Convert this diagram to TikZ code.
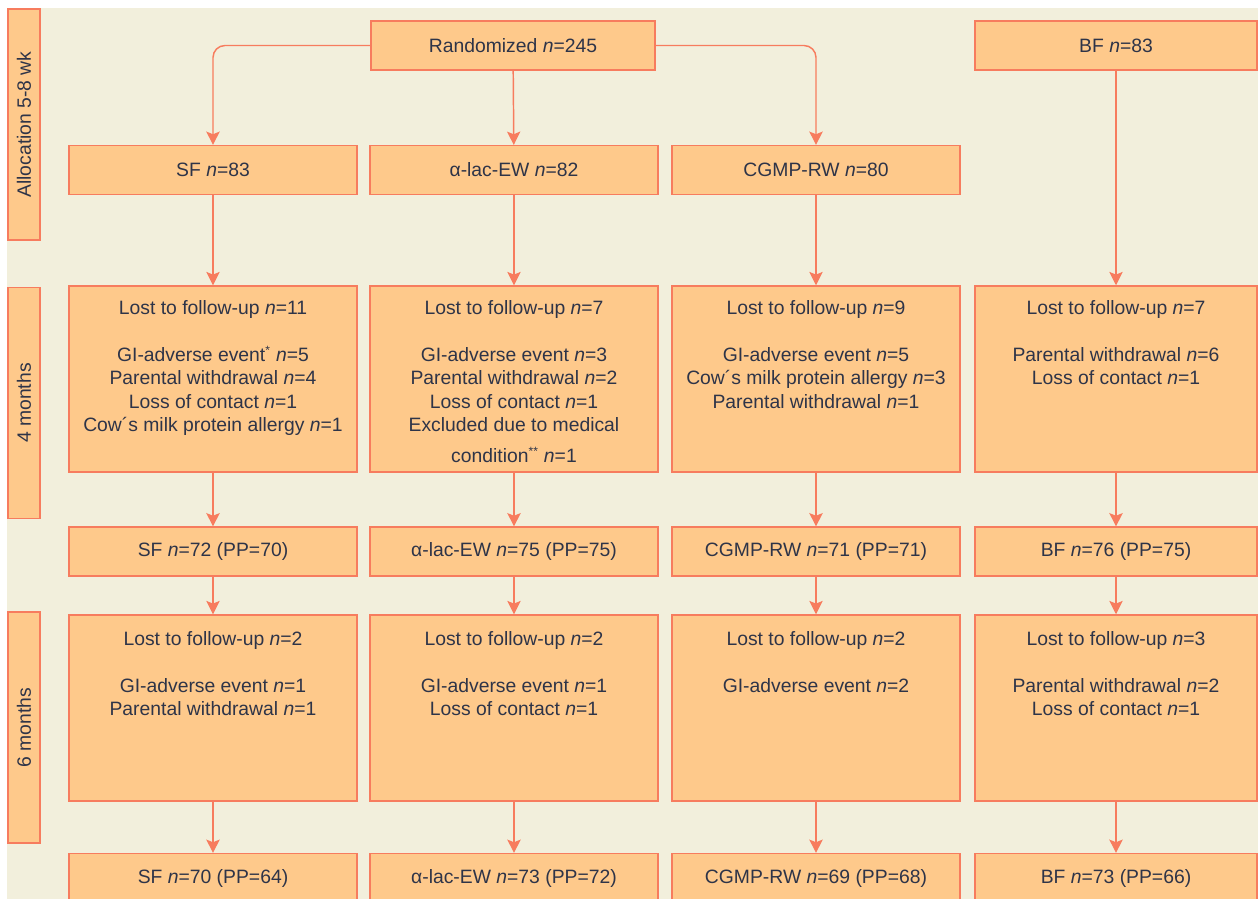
\documentclass[tikz,border=0pt]{standalone}
\usepackage{fontspec}
\setmainfont{Liberation Sans}
\usetikzlibrary{arrows.meta}
\definecolor{boxfill}{HTML}{FEC98B}
\definecolor{boxline}{HTML}{F77C5E}
\definecolor{paper}{HTML}{F2EFDC}
\definecolor{ink}{HTML}{2E3448}
\begin{document}
\begin{tikzpicture}[x=0.75pt, y=-0.75pt, >={Stealth[length=10pt,width=10pt,inset=2pt]},
  box/.style={draw=boxline, fill=boxfill, line width=1.1pt, rectangle, minimum width=216pt, minimum height=36.5pt, inner sep=0pt, text=ink},
  side/.style={box, rotate=90, minimum width=173pt, minimum height=24pt},
  txt/.style={anchor=north, align=center, text=ink, inner sep=0pt},
  link/.style={->, draw=boxline, line width=1.1pt},
  every node/.append style={font=\fontsize{14.5}{17.6}\selectfont}]
\clip (0,0) rectangle (1258,899);
\fill[paper] (7,8) rectangle (1258,899);
\node[side] (s1) at (24,124.5) {Allocation 5-8 wk};
\node[side] (s2) at (24,403) {4 months};
\node[side] (s3) at (24,727.5) {6 months};
\node[box, minimum width=213pt] (r) at (513,45.5) {Randomized \textit{n}=245};
\node[box, minimum width=211.5pt] (d0) at (1116,45.5) {BF \textit{n}=83};
\node[box] (a1) at (213,170) {SF \textit{n}=83};
\node[box] (b1) at (514,170) {α-lac-EW \textit{n}=82};
\node[box] (c1) at (816,170) {CGMP-RW \textit{n}=80};
\node[box, minimum height=139.5pt] (a2) at (213,379) {};
\node[box, minimum height=139.5pt] (b2) at (514,379) {};
\node[box, minimum height=139.5pt] (c2) at (816,379) {};
\node[box, minimum height=139.5pt, minimum width=211.5pt] (d2) at (1116,379) {};
\node[txt] (ta2) at ([yshift=-11pt]a2.north) {Lost to follow-up \textit{n}=11\\[17.6pt]
  GI-adverse event\textsuperscript{\small *} \textit{n}=5\\ Parental withdrawal \textit{n}=4\\
  Loss of contact \textit{n}=1\\ Cow´s milk protein allergy \textit{n}=1};
\node[txt] (tb2) at ([yshift=-11pt]b2.north) {Lost to follow-up \textit{n}=7\\[17.6pt]
  GI-adverse event \textit{n}=3\\ Parental withdrawal \textit{n}=2\\
  Loss of contact \textit{n}=1\\ Excluded due to medical\\[5.5pt] condition\textsuperscript{\small **} \textit{n}=1};
\node[txt] (tc2) at ([yshift=-11pt]c2.north) {Lost to follow-up \textit{n}=9\\[17.6pt]
  GI-adverse event \textit{n}=5\\ Cow´s milk protein allergy \textit{n}=3\\ Parental withdrawal \textit{n}=1};
\node[txt] (td2) at ([yshift=-11pt]d2.north) {Lost to follow-up \textit{n}=7\\[17.6pt]
  Parental withdrawal \textit{n}=6\\ Loss of contact \textit{n}=1};
\node[box] (a3) at (213,551.5) {SF \textit{n}=72 (PP=70)};
\node[box] (b3) at (514,551.5) {α-lac-EW \textit{n}=75 (PP=75)};
\node[box] (c3) at (816,551.5) {CGMP-RW \textit{n}=71 (PP=71)};
\node[box, minimum width=211.5pt] (d3) at (1116,551.5) {BF \textit{n}=76 (PP=75)};
\node[box, minimum height=139.5pt] (a4) at (213,708) {};
\node[box, minimum height=139.5pt] (b4) at (514,708) {};
\node[box, minimum height=139.5pt] (c4) at (816,708) {};
\node[box, minimum height=139.5pt, minimum width=211.5pt] (d4) at (1116,708) {};
\node[txt] (ta4) at ([yshift=-12.5pt]a4.north) {Lost to follow-up \textit{n}=2\\[17.6pt]
  GI-adverse event \textit{n}=1\\ Parental withdrawal \textit{n}=1};
\node[txt] (tb4) at ([yshift=-12.5pt]b4.north) {Lost to follow-up \textit{n}=2\\[17.6pt]
  GI-adverse event \textit{n}=1\\ Loss of contact \textit{n}=1};
\node[txt] (tc4) at ([yshift=-12.5pt]c4.north) {Lost to follow-up \textit{n}=2\\[17.6pt]
  GI-adverse event \textit{n}=2};
\node[txt] (td4) at ([yshift=-12.5pt]d4.north) {Lost to follow-up \textit{n}=3\\[17.6pt]
  Parental withdrawal \textit{n}=2\\ Loss of contact \textit{n}=1};
\node[box] (a5) at (213,878) {SF \textit{n}=70 (PP=64)};
\node[box] (b5) at (514,878) {α-lac-EW \textit{n}=73 (PP=72)};
\node[box] (c5) at (816,878) {CGMP-RW \textit{n}=69 (PP=68)};
\node[box, minimum width=211.5pt] (d5) at (1116,878) {BF \textit{n}=73 (PP=66)};
\draw[link, rounded corners=9pt] (r.west) -| (a1.north);
\draw[link, rounded corners=9pt] (r.east) -| (c1.north);
\draw[link] (r) -- (b1);
\draw[link] (d0) -- (d2);
\foreach \c in {a,b,c} {
  \draw[link] (\c1) -- (\c2);
}
\foreach \c in {a,b,c,d} {
  \draw[link] (\c2) -- (\c3);
  \draw[link] (\c3) -- (\c4);
  \draw[link] (\c4) -- (\c5);
}
\end{tikzpicture}
\end{document}
